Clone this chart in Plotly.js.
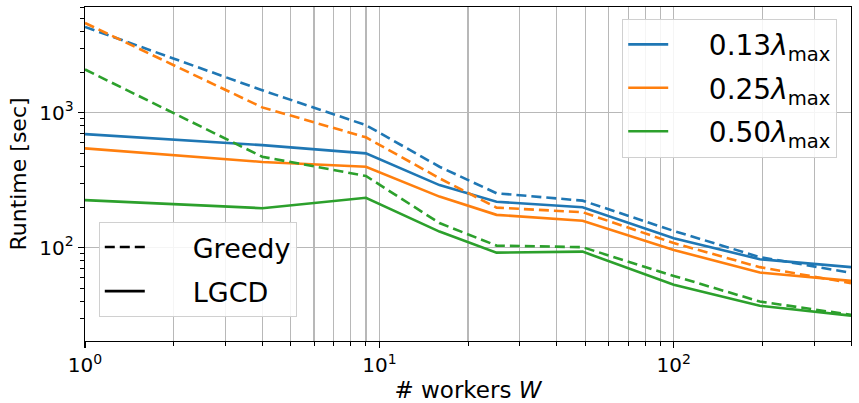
<!DOCTYPE html>
<html>
<head>
<meta charset="utf-8">
<script src="https://cdn.plot.ly/plotly-3.0.1.min.js"></script>
<style>html,body{margin:0;padding:0;background:#fff;}#chart{width:859px;height:403px;}</style>
</head>
<body>
<div id="chart"></div>
<script>
const workers = [1, 4, 9, 16, 25, 49, 100, 196, 400];
const lambdaLabels = ["0.13", "0.25", "0.50"];
const colors = ["#1f77b4", "#ff7f0e", "#2ca02c"];
const xTickVals = [1, 10, 100];
const xTickText = ["10<sup>0</sup>", "10<sup>1</sup>", "10<sup>2</sup>"];
const yTickVals = [100, 1000];
const yTickText = ["10<sup>2</sup>", "10<sup>3</sup>"];
// Greedy (dashed)
const greedy013 = [4340, 1470, 810, 398, 253, 223, 133, 85, 65];
const greedy025 = [4640, 1097, 658, 327, 198, 183, 108, 71.6, 54.5];
const greedy050 = [2095, 472, 340, 152, 103.5, 100.7, 61.6, 39.8, 31.7];
// LGCD (solid)
const lgcd013 = [695, 576, 500, 291, 219, 199, 117.5, 82, 71.6];
const lgcd025 = [545, 432, 398, 239, 175, 158, 96, 65.3, 56.6];
const lgcd050 = [225, 196, 234, 131.5, 91.8, 93.3, 53, 37, 31.3];

const greedyAll = [greedy013, greedy025, greedy050];
const lgcdAll = [lgcd013, lgcd025, lgcd050];

const LW = 2.6;
const PAD = "\u00a0\u00a0\u00a0\u00a0\u00a0";
const traces = [];
for (let i = 0; i < 3; i++) {
  traces.push({x: workers, y: greedyAll[i], mode: "lines", showlegend: false,
    line: {color: colors[i], width: LW, dash: "10px,5px"}, hoverinfo: "skip"});
  traces.push({x: workers, y: lgcdAll[i], mode: "lines", showlegend: false,
    line: {color: colors[i], width: LW}, hoverinfo: "skip"});
}
for (let i = 0; i < 3; i++) {
  traces.push({x: [null], y: [null], mode: "lines", name: "\u00a0\u00a0\u00a0\u00a0" + lambdaLabels[i] + "<i>λ</i><sub>max</sub>",
    legend: "legend", legendgroup: "g" + i, line: {color: colors[i], width: LW}});
}
traces.push({x: [null], y: [null], mode: "lines", name: PAD + "Greedy", legend: "legend2", legendgroup: "a",
  line: {color: "#000", width: LW, dash: "10px,5px"}});
traces.push({x: [null], y: [null], mode: "lines", name: PAD + "LGCD", legend: "legend2", legendgroup: "b",
  line: {color: "#000", width: LW}});

const font = "DejaVu Sans, sans-serif";
const layout = {
  width: 859, height: 403,
  margin: {l: 85, r: 8, t: 7, b: 62},
  paper_bgcolor: "#fff", plot_bgcolor: "#fff",
  font: {family: font, color: "#000", size: 18},
  xaxis: {
    type: "log", range: [0, Math.log10(400)], tickmode: "array", tickvals: xTickVals, ticktext: xTickText,
    showline: true, linecolor: "#000", linewidth: 1.3, mirror: true,
    ticks: "outside", ticklen: 6, tickwidth: 1.2, tickcolor: "#000",
    showgrid: true, gridcolor: "#b8b8b8", gridwidth: 1.2, zeroline: false,
    tickfont: {size: 20, family: font},
    minor: {dtick: "D1", ticks: "outside", ticklen: 3.5, tickwidth: 1, tickcolor: "#000", showgrid: true, gridcolor: "#b8b8b8", gridwidth: 1.2},
    title: {text: "# workers <i>W</i>", font: {size: 23, family: font}, standoff: 9}
  },
  yaxis: {
    type: "log", range: [1.307, 3.785], tickmode: "array", tickvals: yTickVals, ticktext: yTickText,
    showline: true, linecolor: "#000", linewidth: 1.3, mirror: true,
    ticks: "outside", ticklen: 6, tickwidth: 1.2, tickcolor: "#000",
    showgrid: true, gridcolor: "#b8b8b8", gridwidth: 1.2, zeroline: false,
    tickfont: {size: 20, family: font},
    minor: {dtick: "D1", ticks: "outside", ticklen: 3.5, tickwidth: 1, tickcolor: "#000", showgrid: false},
    title: {text: "Runtime [sec]", font: {size: 22, family: font}, standoff: 6}
  },
  legend: {
    x: 0.982, y: 0.965, xanchor: "right", yanchor: "top",
    bgcolor: "rgba(255,255,255,0.85)", bordercolor: "#d0d0d0", borderwidth: 1,
    font: {size: 28, family: font}, traceorder: "grouped", tracegroupgap: 4, itemwidth: 40
  },
  legend2: {
    x: 0.018, y: 0.072, xanchor: "left", yanchor: "bottom",
    bgcolor: "rgba(255,255,255,0.85)", bordercolor: "#d0d0d0", borderwidth: 1,
    font: {size: 27, family: font}, traceorder: "grouped", tracegroupgap: 6, itemwidth: 40
  }
};
Plotly.newPlot("chart", traces, layout, {displayModeBar: false, staticPlot: true});
</script>
</body>
</html>
